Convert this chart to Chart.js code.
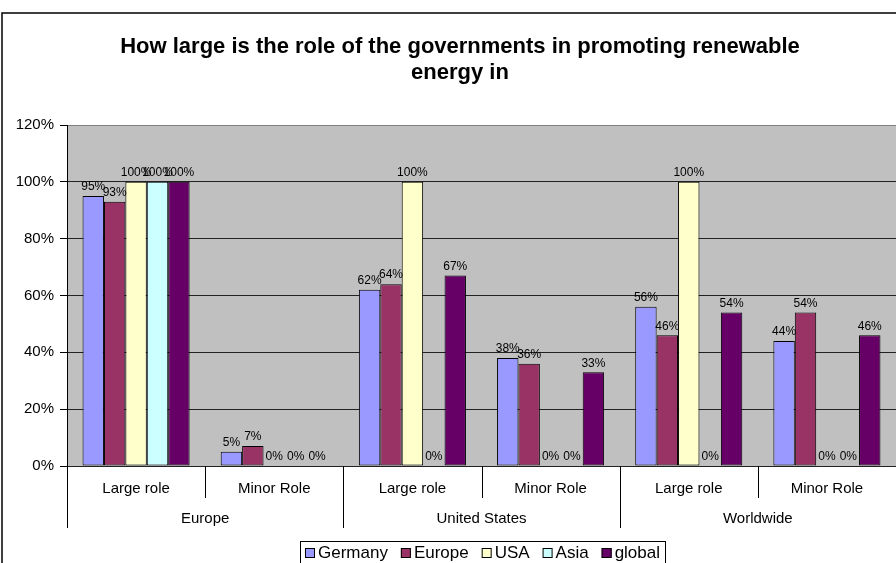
<!DOCTYPE html>
<html>
<head>
<meta charset="utf-8">
<script src="https://cdn.jsdelivr.net/npm/chart.js@4"></script>
<style>
  html, body { margin: 0; padding: 0; background: #fff; }
  #chart { display: block; }
</style>
</head>
<body>
<canvas id="chart" width="896" height="563"></canvas>
<script>
const titleLines = ['How large is the role of the governments in promoting renewable', 'energy in'];
const categories = ['Large role', 'Minor Role', 'Large role', 'Minor Role', 'Large role', 'Minor Role'];
const regions = ['Europe', 'United States', 'Worldwide'];
const seriesNames = ['Germany', 'Europe', 'USA', 'Asia', 'global'];
const germany = [95, 5, 62, 38, 56, 44];
const europe = [93, 7, 64, 36, 46, 54];
const usa = [100, 0, 100, 0, 100, 0];
const asia = [100, 0, 0, 0, 0, 0];
const global = [100, 0, 67, 33, 54, 46];
const yTicks = [0, 20, 40, 60, 80, 100, 120];

const colors = ['#9999FF', '#993366', '#FFFFCC', '#CCFFFF', '#660066'];
const font = '"Liberation Sans", Arial, sans-serif';

const values = [germany, europe, usa, asia, global];
const datasets = seriesNames.map((name, i) => ({
  label: name,
  data: values[i],
  backgroundColor: colors[i],
  borderColor: '#000',
  borderWidth: 1,
  borderSkipped: false,
  categoryPercentage: 0.775,
  barPercentage: 1
}));

// white page, outer frame and grey plot area
const backgroundPlugin = {
  id: 'background',
  beforeDraw(chart) {
    const ctx = chart.ctx;
    const area = chart.chartArea;
    ctx.save();
    ctx.fillStyle = '#fff';
    ctx.fillRect(0, 0, chart.width, chart.height);
    ctx.strokeStyle = '#000';
    ctx.lineWidth = 1.5;
    ctx.strokeRect(2, 13, 1000, 1000);
    ctx.fillStyle = '#C0C0C0';
    ctx.fillRect(area.left, area.top, area.right - area.left, area.bottom - area.top);
    ctx.restore();
  }
};

// value labels above the bars
const valueLabels = {
  id: 'valueLabels',
  afterDatasetsDraw(chart) {
    const ctx = chart.ctx;
    ctx.save();
    ctx.font = '12px ' + font;
    ctx.fillStyle = '#000';
    ctx.textAlign = 'center';
    ctx.textBaseline = 'bottom';
    chart.data.datasets.forEach((ds, i) => {
      chart.getDatasetMeta(i).data.forEach((bar, j) => {
        ctx.fillText(ds.data[j] + '%', bar.x, bar.y - 3);
      });
    });
    ctx.restore();
  }
};

// title, two level category axis and legend box
const decorations = {
  id: 'decorations',
  afterDraw(chart) {
    const ctx = chart.ctx;
    const area = chart.chartArea;
    const x = chart.scales.x;
    const step = (area.right - area.left) / categories.length;
    ctx.save();

    ctx.fillStyle = '#000';
    ctx.textAlign = 'center';
    ctx.textBaseline = 'alphabetic';
    ctx.font = 'bold 22px ' + font;
    ctx.fillText(titleLines[0], 460, 53);
    ctx.fillText(titleLines[1], 460, 79);

    // separators below the axis
    ctx.strokeStyle = '#000';
    ctx.lineWidth = 1;
    for (let k = 0; k <= categories.length; k++) {
      const px = Math.round(area.left + k * step) + 0.5;
      ctx.beginPath();
      ctx.moveTo(px, area.bottom);
      ctx.lineTo(px, k % 2 === 0 ? 528 : 498);
      ctx.stroke();
    }

    ctx.textBaseline = 'middle';
    ctx.font = '15px ' + font;
    categories.forEach((c, i) => {
      ctx.fillText(c, x.getPixelForValue(i), 489);
    });
    regions.forEach((r, i) => {
      const cx = (x.getPixelForValue(i * 2) + x.getPixelForValue(i * 2 + 1)) / 2;
      ctx.fillText(r, cx, 519);
    });

    // legend
    ctx.font = '17px ' + font;
    const sw = 10, gapText = 3, pad = 5;
    const boxLeft = 300, boxW = 365;
    let textTotal = 0;
    seriesNames.forEach(n => { textTotal += ctx.measureText(n).width; });
    const used = pad * 2 + seriesNames.length * (sw + gapText) + textTotal;
    const gapItem = Math.max(4, (boxW - used) / (seriesNames.length - 1));
    ctx.strokeRect(boxLeft + 0.5, 541.5, boxW, 40);
    let lx = boxLeft + pad;
    const ly = 553;
    ctx.textAlign = 'left';
    seriesNames.forEach((n, i) => {
      ctx.fillStyle = colors[i];
      ctx.fillRect(lx, ly - sw / 2, sw, sw);
      ctx.strokeStyle = '#000';
      ctx.strokeRect(lx + 0.5, ly - sw / 2 + 0.5, sw - 1, sw - 1);
      lx += sw + gapText;
      ctx.fillStyle = '#000';
      ctx.fillText(n, lx, ly);
      lx += ctx.measureText(n).width + gapItem;
    });

    ctx.restore();
  }
};

new Chart(document.getElementById('chart'), {
  type: 'bar',
  data: {
    labels: categories,
    datasets: datasets
  },
  options: {
    responsive: false,
    animation: false,
    devicePixelRatio: 1,
    layout: { padding: { top: 125, right: 0, bottom: 97, left: 0 } },
    plugins: {
      legend: { display: false },
      title: { display: false },
      tooltip: { enabled: false }
    },
    scales: {
      x: { display: false },
      y: {
        min: 0,
        max: 120,
        afterFit(scale) { scale.width = 67; },
        afterBuildTicks(scale) { scale.ticks = yTicks.map(v => ({ value: v })); },
        ticks: {
          callback: v => v + '%',
          color: '#000',
          font: { family: font, size: 15 },
          padding: 6
        },
        grid: {
          color: ctx => ctx.tick && ctx.tick.value === 120 ? '#808080' : '#222',
          tickColor: '#000',
          tickLength: 7
        },
        border: { color: '#000' }
      }
    }
  },
  plugins: [backgroundPlugin, valueLabels, decorations]
});
</script>
</body>
</html>
